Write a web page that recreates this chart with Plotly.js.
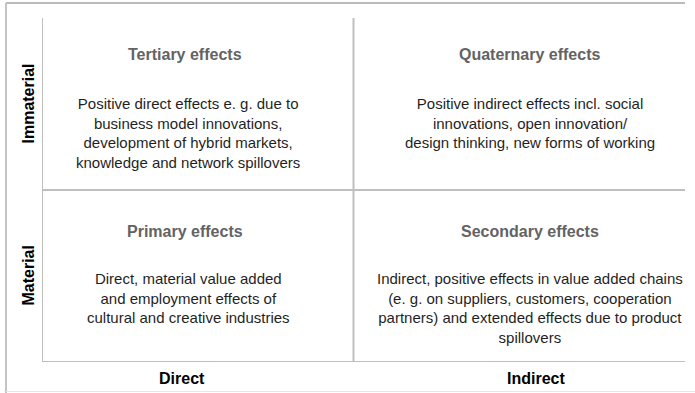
<!DOCTYPE html>
<html>
<head>
<meta charset="utf-8">
<script src="https://cdn.plot.ly/plotly-3.0.1.min.js"></script>
<style>html,body{margin:0;padding:0;background:#fff;}#chart{width:695px;height:393px;}</style>
</head>
<body>
<div id="chart"></div>
<script>
// ---- data ----
const colLabels = ["Direct", "Indirect"];
const rowLabels = ["Material", "Immaterial"];
const cellCols = [0, 1, 0, 1];
const cellRows = [0, 0, 1, 1];
const cellTitles = ["Primary effects", "Secondary effects", "Tertiary effects", "Quaternary effects"];
const cellTexts = [
  "Direct, material value added<br>and employment effects of<br>cultural and creative industries",
  "Indirect, positive effects in value added chains<br>(e. g. on suppliers, customers, cooperation<br>partners) and extended effects due to product<br>spillovers",
  "Positive direct effects e. g. due to<br>business model innovations,<br>development of hybrid markets,<br>knowledge and network spillovers",
  "Positive indirect effects incl. social<br>innovations, open innovation/<br>design thinking, new forms of working"
];

// ---- layout ----
const FONT = "Liberation Sans, Arial, Helvetica, sans-serif";
const XMAX = 2.0642;
const colX = [0.46, 1.565];
const labelX = [0.449, 1.586];
const lineCol = "#bfbfbf";

const annotations = [];
cellTitles.forEach((t, i) => {
  annotations.push({
    x: colX[cellCols[i]], y: cellRows[i] * 1.03 + 0.76, xref: "x", yref: "y",
    text: "<b>" + t + "</b>", showarrow: false, xanchor: "center", yanchor: "middle",
    font: {family: FONT, size: 16, color: "#636363"}
  });
  annotations.push({
    x: colX[cellCols[i]] + (cellCols[i] === 0 ? 0.01 : 0.0), y: cellRows[i] * 1.02 + 0.545, xref: "x", yref: "y",
    text: cellTexts[i], showarrow: false, xanchor: "center", yanchor: "top", align: "center",
    font: {family: FONT, size: 15, color: "#1f1f1f"}
  });
});
colLabels.forEach((c, i) => {
  annotations.push({
    x: labelX[i], y: 0, xref: "x", yref: "y", yshift: -16,
    text: "<b>" + c + "</b>", showarrow: false, xanchor: "center", yanchor: "middle",
    font: {family: FONT, size: 16, color: "#000"}
  });
});
rowLabels.forEach((r, i) => {
  annotations.push({
    x: 0, y: i + 0.5, xref: "paper", yref: "y", xshift: -14.5,
    text: "<b>" + r + "</b>", showarrow: false, textangle: -90, xanchor: "center", yanchor: "middle",
    font: {family: FONT, size: 16, color: "#000"}
  });
});

const shapes = [
  // inner grid
  {type: "line", xref: "x", yref: "y", x0: 0, x1: 0, y0: 0, y1: 2, line: {color: lineCol, width: 2}},
  {type: "line", xref: "x", yref: "y", x0: 1, x1: 1, y0: 0, y1: 2, line: {color: lineCol, width: 2}},
  {type: "line", xref: "x", yref: "y", x0: 0, x1: XMAX, y0: 1, y1: 1, line: {color: lineCol, width: 2}},
  {type: "line", xref: "x", yref: "y", x0: 0, x1: XMAX, y0: 0, y1: 0, line: {color: lineCol, width: 2}},
  // outer frame
  {type: "line", xref: "paper", yref: "paper", x0: -0.056, x1: 1, y0: 1.0436, y1: 1.0436, line: {color: "#bbbbbb", width: 2}},
  {type: "line", xref: "paper", yref: "paper", x0: -0.056, x1: -0.056, y0: 1.0436, y1: -0.09, line: {color: "#c4c4c4", width: 2}},
  {type: "line", xref: "paper", yref: "paper", x0: -0.056, x1: 1.02, y0: -0.0858, y1: -0.0858, line: {color: "#e6e6e6", width: 1}}
];

const layout = {
  width: 695, height: 393,
  margin: {l: 42, r: 10, t: 18, b: 31, pad: 0},
  paper_bgcolor: "#ffffff", plot_bgcolor: "#ffffff",
  showlegend: false,
  xaxis: {range: [0, XMAX], visible: false, fixedrange: true},
  yaxis: {range: [0, 2], visible: false, fixedrange: true},
  annotations: annotations,
  shapes: shapes
};

Plotly.newPlot("chart", [{x: [], y: [], type: "scatter", mode: "markers", hoverinfo: "skip"}], layout, {staticPlot: true, displayModeBar: false});
</script>
</body>
</html>
